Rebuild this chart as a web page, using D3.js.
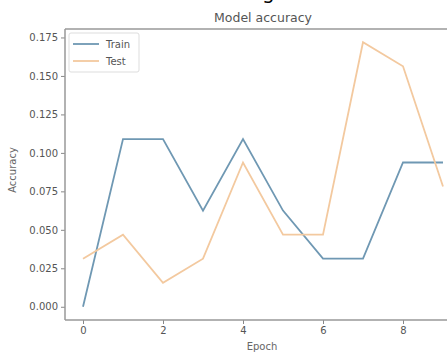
<!DOCTYPE html>
<html>
<head>
<meta charset="utf-8">
<script src="https://cdn.jsdelivr.net/npm/d3@7"></script>
<style>
  body { margin: 0; background: #fff; }
  text { font-family: "DejaVu Sans", sans-serif; fill: #444; }
</style>
</head>
<body>
<div id="chart"></div>
<script>
// Data
const epochs = [0, 1, 2, 3, 4, 5, 6, 7, 8, 9];
const trainAcc = [0.0, 0.109, 0.109, 0.0625, 0.109, 0.0625, 0.03125, 0.03125, 0.09375, 0.09375];
const testAcc = [0.03125, 0.046875, 0.015625, 0.03125, 0.09375, 0.046875, 0.046875, 0.171875, 0.15625, 0.078125];
const xTicks = [0, 2, 4, 6, 8];
const yTicks = [0, 0.025, 0.05, 0.075, 0.1, 0.125, 0.15, 0.175];
const seriesNames = ["Train", "Test"];
const seriesColors = ["#6f98b3", "#f3c99f"];

const W = 447, H = 352;
const margin = { top: 29, right: -14, bottom: 32, left: 65 };
const width = W - margin.left - margin.right;
const height = H - margin.top - margin.bottom;

const svg = d3.select("#chart")
  .append("svg")
  .attr("width", W)
  .attr("height", H);

// clipped descender of a heading above the figure
svg.append("text")
  .attr("x", 262)
  .attr("y", -1)
  .style("font-size", "20px")
  .style("fill", "#000")
  .text("g");

const g = svg.append("g")
  .attr("transform", `translate(${margin.left},${margin.top})`);

const xScale = d3.scaleLinear()
  .domain([-0.45, 9.45])
  .range([0, width]);

const yScale = d3.scaleLinear()
  .domain([-0.0086, 0.1805])
  .range([height, 0]);

// Lines
const line = d3.line()
  .x((d, i) => xScale(epochs[i]))
  .y(d => yScale(d));

[trainAcc, testAcc].forEach((vals, k) => {
  g.append("path")
    .datum(vals)
    .attr("fill", "none")
    .attr("stroke", seriesColors[k])
    .attr("stroke-width", 1.8)
    .attr("d", line);
});

// Axes
const xAxis = d3.axisBottom(xScale).tickValues(xTicks).tickFormat(d3.format("d")).tickSize(4).tickPadding(3);
const yAxis = d3.axisLeft(yScale).tickValues(yTicks).tickFormat(d3.format(".3f")).tickSize(4).tickPadding(3);

const gx = g.append("g")
  .attr("transform", `translate(0, ${height})`)
  .call(xAxis);
const gy = g.append("g").call(yAxis);

[gx, gy].forEach(ax => {
  ax.select(".domain").remove();
  ax.selectAll("line").attr("stroke", "#888");
  ax.selectAll("text").style("font-size", "10px").style("fill", "#555");
});

// Spines
g.append("line").attr("x1", 0).attr("x2", width).attr("y1", 0).attr("y2", 0)
  .attr("stroke", "#999").attr("stroke-width", 1.5);
g.append("line").attr("x1", 0).attr("x2", width).attr("y1", height).attr("y2", height)
  .attr("stroke", "#999").attr("stroke-width", 1.5);
g.append("line").attr("x1", 0).attr("x2", 0).attr("y1", 0).attr("y2", height)
  .attr("stroke", "#999").attr("stroke-width", 1.5);

// Title and axis labels
svg.append("text")
  .attr("x", 263)
  .attr("y", 22)
  .style("text-anchor", "middle")
  .style("font-size", "12.5px")
  .style("fill", "#555")
  .text("Model accuracy");

svg.append("text")
  .attr("x", 262)
  .attr("y", 350)
  .style("text-anchor", "middle")
  .style("font-size", "10px")
  .style("fill", "#666")
  .text("Epoch");

svg.append("text")
  .attr("transform", "rotate(-90)")
  .attr("x", -170)
  .attr("y", 16)
  .style("text-anchor", "middle")
  .style("font-size", "10px")
  .style("fill", "#666")
  .text("Accuracy");

// Legend
const legend = g.append("g").attr("transform", "translate(4, 4)");
legend.append("rect")
  .attr("width", 70)
  .attr("height", 39)
  .attr("rx", 2)
  .attr("fill", "#fff")
  .attr("stroke", "#ddd");
seriesNames.forEach((name, i) => {
  const y = 11 + i * 17;
  legend.append("line")
    .attr("x1", 4).attr("x2", 30)
    .attr("y1", y).attr("y2", y)
    .attr("stroke", seriesColors[i])
    .attr("stroke-width", 1.8);
  legend.append("text")
    .attr("x", 37)
    .attr("y", y + 3.5)
    .style("font-size", "10px")
    .style("fill", "#555")
    .text(name);
});
</script>
</body>
</html>
